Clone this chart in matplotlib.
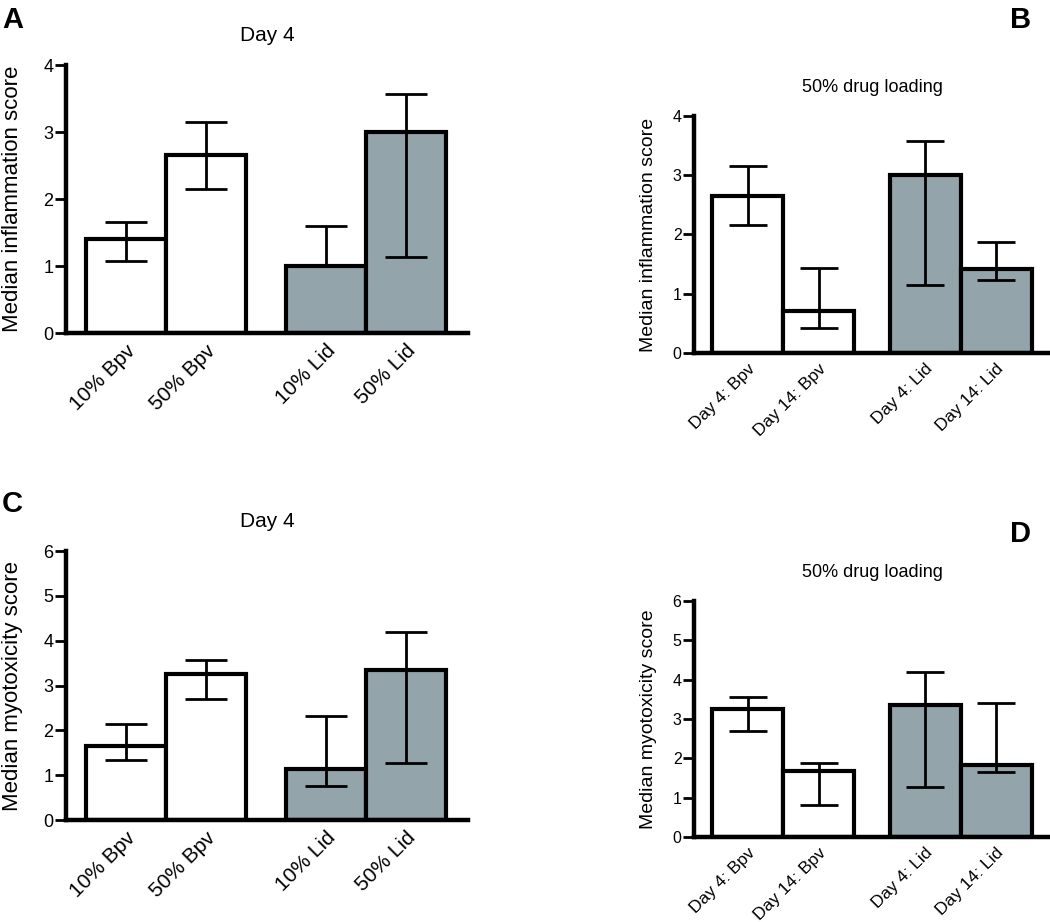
import matplotlib
matplotlib.use("Agg")
import matplotlib.pyplot as plt

plt.rcParams['font.family'] = ['Liberation Sans', 'DejaVu Sans']

# ---- data ----
cats_day4 = ['10% Bpv', '50% Bpv', '10% Lid', '50% Lid']
cats_load = ['Day 4: Bpv', 'Day 14: Bpv', 'Day 4: Lid', 'Day 14: Lid']

infl_day4 = [1.40, 2.65, 1.00, 3.00]
infl_day4_lo = [1.07, 2.15, 1.00, 1.14]
infl_day4_hi = [1.65, 3.15, 1.59, 3.57]

infl_load = [2.65, 0.71, 3.00, 1.41]
infl_load_lo = [2.16, 0.43, 1.15, 1.23]
infl_load_hi = [3.15, 1.43, 3.58, 1.88]

myo_day4 = [1.65, 3.25, 1.14, 3.35]
myo_day4_lo = [1.34, 2.69, 0.76, 1.28]
myo_day4_hi = [2.15, 3.56, 2.33, 4.19]

myo_load = [3.25, 1.69, 3.35, 1.84]
myo_load_lo = [2.69, 0.81, 1.28, 1.64]
myo_load_hi = [3.57, 1.89, 4.19, 3.40]

positions = [0, 1, 2.5, 3.5]
fills = ['white', 'white', '#94a4ab', '#94a4ab']

W, H = 1050, 922
fig = plt.figure(figsize=(W / 100, H / 100), dpi=100)


def px_axes(left, top, right, bottom):
    return fig.add_axes([left / W, (H - bottom) / H, (right - left) / W, (bottom - top) / H])


def panel(ax, cats, vals, lo, hi, ymax, ylabel, title, xlim, big,
          capsize, lab_x):
    ax.bar(positions, vals, width=1.0, color=fills, edgecolor='black',
           linewidth=3.0, zorder=2)
    yerr = [[v - l for v, l in zip(vals, lo)], [h - v for v, h in zip(vals, hi)]]
    ax.errorbar(positions, vals, yerr=yerr, fmt='none', ecolor='black',
                elinewidth=2.0, capsize=capsize, capthick=2.0, zorder=3)
    ax.set_xlim(*xlim)
    ax.set_ylim(0, ymax)
    ax.set_yticks(range(0, ymax + 1))
    for s in ['top', 'right']:
        ax.spines[s].set_visible(False)
    for s in ['left', 'bottom']:
        ax.spines[s].set_linewidth(3.2)
        ax.spines[s].set_zorder(4)
    ax.tick_params(axis='y', direction='out', length=8, width=2.0,
                   labelsize=13 if big else 11.5, pad=1)
    ax.tick_params(axis='x', length=0, pad=6)
    ax.set_xticks(positions)
    ax.set_xticklabels(cats, rotation=45, ha='right', rotation_mode='anchor',
                       fontsize=15 if big else 12.5)
    ax.set_ylabel(ylabel, fontsize=16 if big else 14)
    ax.yaxis.set_label_coords(lab_x, 0.5)
    ax.set_title(title, fontsize=15 if big else 13, pad=17)


axA = px_axes(66, 65, 468, 333)
panel(axA, cats_day4, infl_day4, infl_day4_lo, infl_day4_hi, 4,
      'Median inflammation score', 'Day 4', (-0.75, 4.275), True, 15, -0.106)

axB = px_axes(694, 116, 1050, 353)
panel(axB, cats_load, infl_load, infl_load_lo, infl_load_hi, 4,
      'Median inflammation score', '50% drug loading', (-0.754, 4.26), False, 13.5, -0.104)

axC = px_axes(66, 551, 468, 820)
panel(axC, cats_day4, myo_day4, myo_day4_lo, myo_day4_hi, 6,
      'Median myotoxicity score', 'Day 4', (-0.75, 4.275), True, 15, -0.106)

axD = px_axes(694, 601, 1050, 837)
panel(axD, cats_load, myo_load, myo_load_lo, myo_load_hi, 6,
      'Median myotoxicity score', '50% drug loading', (-0.754, 4.26), False, 13.5, -0.104)

for letter, x, y in [('A', 2, 6), ('B', 1010, 6), ('C', 2, 490), ('D', 1010, 520)]:
    fig.text(x / W, 1 - y / H, letter, fontsize=21, fontweight='bold',
             ha='left', va='top')

fig.savefig('out.png', dpi=100)
